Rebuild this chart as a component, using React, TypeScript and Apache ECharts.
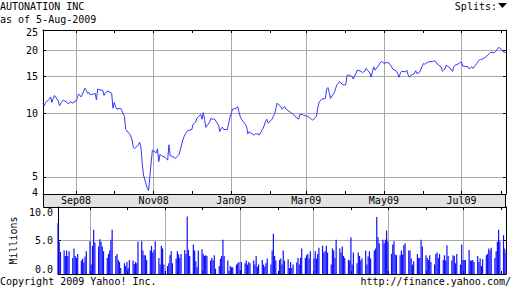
import { useEffect, useRef } from 'react';
import * as echarts from 'echarts';

const MONTHS = ['Jan', 'Feb', 'Mar', 'Apr', 'May', 'Jun', 'Jul', 'Aug', 'Sep', 'Oct', 'Nov', 'Dec'];
const START = '2008-08-06';
const END = '2009-08-05';

// daily closes (one per weekday from START to END)
const closes = [
  11.2, 10.9, 11.3, 11.7, 12.0, 11.3, 11.8, 12.2, 11.5, 10.9,
  11.2, 11.4, 11.6, 11.3, 11.1, 11.3, 11.4, 11.2, 11.5, 11.9,
  12.4, 12.2, 12.0, 13.2, 12.9, 12.5, 12.6, 12.3, 12.4, 12.5,
  11.6, 13.1, 13.0, 12.9, 12.2, 12.5, 12.7, 12.8, 12.5, 10.6,
  11.3, 10.8, 10.5, 10.6, 10.3, 10.0, 9.7, 8.4, 8.0, 7.8,
  7.5, 6.9, 6.8, 7.1, 7.3, 6.9, 5.8, 5.1, 4.4, 4.3,
  5.0, 5.8, 6.7, 6.5, 6.8, 5.9, 6.4, 6.3, 6.2, 6.1,
  6.0, 7.1, 6.3, 6.2, 6.1, 6.2, 6.3, 6.4, 7.5, 7.8,
  8.0, 8.2, 8.3, 8.4, 8.9, 9.0, 9.1, 9.5, 9.9, 9.4,
  10.1, 9.4, 8.6, 9.1, 9.5, 9.4, 9.4, 9.4, 8.8, 8.2,
  8.5, 8.6, 8.4, 8.4, 9.0, 9.6, 10.0, 10.5, 10.6, 10.8,
  10.2, 9.7, 9.4, 8.9, 8.7, 8.0, 8.2, 8.1, 7.9, 8.0,
  8.0, 8.0, 7.9, 8.5, 8.8, 9.2, 9.4, 9.0, 9.4, 9.7,
  9.9, 10.5, 11.2, 10.8, 10.5, 10.7, 10.8, 10.5, 10.2, 10.1,
  10.0, 9.9, 9.7, 9.4, 9.9, 9.9, 9.9, 9.8, 9.7, 9.6,
  9.5, 9.4, 9.3, 9.7, 10.6, 11.3, 11.5, 11.7, 11.8, 13.1,
  13.3, 12.6, 11.8, 12.6, 13.1, 13.7, 13.9, 14.2, 13.7, 13.7,
  13.7, 15.2, 15.3, 15.0, 14.6, 15.1, 15.5, 16.1, 15.9, 15.7,
  15.8, 15.9, 16.4, 15.6, 14.9, 15.8, 16.7, 16.1, 17.0, 17.4,
  17.7, 17.6, 17.4, 17.5, 17.4, 17.1, 16.7, 16.3, 15.9, 15.4,
  14.9, 15.6, 15.9, 15.8, 16.1, 15.3, 14.9, 15.2, 15.5, 16.0,
  15.5, 15.6, 15.7, 17.3, 17.2, 17.3, 17.5, 17.6, 17.7, 17.8,
  17.8, 17.6, 17.2, 16.7, 15.9, 16.1, 16.3, 17.0, 16.5, 16.1,
  15.9, 16.7, 17.0, 17.3, 17.5, 17.6, 16.8, 16.8, 16.7, 16.3,
  16.5, 16.7, 16.4, 17.3, 17.7, 18.0, 18.1, 18.1, 18.6, 18.8,
  19.1, 19.3, 19.6, 19.5, 19.8, 20.2, 20.6, 20.6, 19.6, 19.6,
  19.5,
];

// daily volume, millions
const volumes = [
  7.6, 4.8, 3.3, 3.5, 2.7, 3.5, 2.7, 3.4, 2.4, 3.8,
  2.7, 2.4, 3.0, 2.0, 2.3, 1.7, 2.6, 3.4, 4.9, 1.4,
  4.2, 6.6, 4.7, 4.1, 5.2, 4.8, 4.1, 3.4, 2.4, 3.0,
  3.5, 5.1, 6.6, 2.7, 3.0, 2.1, 1.8, 0.9, 1.6, 1.2,
  1.8, 0.9, 2.1, 2.0, 1.5, 1.8, 1.6, 4.8, 4.9, 3.5,
  2.8, 2.8, 2.1, 3.5, 4.2, 3.2, 3.6, 4.9, 2.4, 1.4,
  4.2, 3.8, 1.4, 1.2, 1.6, 2.8, 3.4, 1.6, 2.3, 3.4,
  2.9,
  2.4, 3.0, 3.6, 3.0, 8.6, 3.6, 2.7, 4.4, 3.5, 1.9,
  1.0, 3.5, 3.7, 3.0, 2.7, 2.8, 2.7, 2.0, 2.4, 2.1,
  2.8, 0.8, 1.2, 2.3, 2.7, 5.1, 2.7, 2.0, 0.5, 1.2,
  1.0, 1.0, 1.4, 1.6, 1.8, 0.6, 1.8, 1.6, 2.0, 1.4,
  1.8, 1.6, 2.0, 1.4, 2.7, 1.1, 1.4, 2.1, 1.4, 1.1,
  1.6, 2.3, 1.4, 3.5, 6.0, 2.7, 2.0, 2.1, 2.3, 1.4,
  3.5, 2.0, 2.2, 0.9, 1.8, 0.9, 1.4, 1.7, 2.4, 1.4,
  2.4, 3.8, 2.4, 2.8, 3.0, 2.3, 3.4, 2.3, 3.4, 2.3,
  3.0, 3.9, 4.2, 3.2, 3.4, 4.2, 3.2, 1.4, 3.8, 3.5,
  2.4, 5.1, 3.8, 3.2, 4.1, 2.7,
  2.4, 2.1, 2.0, 5.5, 1.4, 3.2, 1.6, 3.2, 2.7, 2.0,
  2.3, 3.5, 1.4, 2.6, 3.4, 2.3, 3.5, 3.8, 8.5, 5.5,
  4.6, 5.1, 4.6, 5.1, 6.5, 4.9, 3.0, 4.4, 4.9, 2.9,
  2.8, 2.8, 3.5, 2.9, 4.3, 4.6, 3.5, 3.5, 2.3, 1.4,
  1.9, 3.0, 2.4, 2.4, 5.1, 4.1, 2.8, 2.4, 2.1, 2.8,
  1.8, 1.4, 3.0, 3.2, 2.4, 3.0, 2.1, 2.8, 2.0, 4.3,
  2.7, 2.0, 2.8, 2.7, 1.6, 3.0, 1.4, 4.4, 2.1, 2.1,
  2.1, 3.6, 2.0, 2.0, 2.1, 1.8, 2.7, 1.8, 2.3, 1.2,
  2.2, 2.8, 3.0, 3.8, 3.5, 3.9, 2.4, 3.4, 4.8, 6.6,
  4.9, 5.8, 3.8, 3.1,
];

const monthTicks = [
  '2008-09-01', '2008-10-01', '2008-11-01', '2008-12-01', '2009-01-01', '2009-02-01',
  '2009-03-01', '2009-04-01', '2009-05-01', '2009-06-01', '2009-07-01', '2009-08-01',
];
const labelMonths = ['2008-09-01', '2008-11-01', '2009-01-01', '2009-03-01', '2009-05-01', '2009-07-01'];

const priceGridValues = [5, 10, 15, 20];
const priceLabelTexts = [4, 5, 10, 15, 20, 25];
const priceLabelAt = [4.2, 5, 10, 15, 20, 24.2];
const PRICE_MIN = 4.14;
const PRICE_MAX = 25;

const volGridValues = [5];
const volLabelTexts = [0, 5, 10];
const volLabelAt = [0.6, 5, 9.2];
const VOL_MAX = 10;

const FONT = 'DejaVu Sans Mono';
const GRID_COLOR = '#a9a9a9';

function ts(s: string) {
  const [y, m, d] = s.split('-').map(Number);
  return Date.UTC(y, m - 1, d);
}

function tradingDays(start: string, end: string) {
  const out: number[] = [];
  for (let t = ts(start); t <= ts(end); t += 86400000) {
    const wd = new Date(t).getUTCDay();
    if (wd !== 0 && wd !== 6) out.push(t);
  }
  return out;
}

function nearest(list: number[], v: number) {
  let best = list[0];
  for (const x of list) if (Math.abs(x - v) < Math.abs(best - v)) best = x;
  return best;
}

export default function App() {
  const ref = useRef<HTMLDivElement>(null);

  useEffect(() => {
    if (!ref.current) return;
    const chart = echarts.init(ref.current, undefined, { renderer: 'svg' });
    const days = tradingDays(START, END);
    const xMin = ts(START);
    const xMax = ts(END);
    const monthTs = monthTicks.map(ts);
    const labelTs = labelMonths.map(ts);
    const fmtMonth = (v: number) => {
      const d = new Date(v);
      return MONTHS[d.getUTCMonth()] + String(d.getUTCFullYear() % 100).padStart(2, '0');
    };
    const black = { color: '#000', width: 1 };
    const lbl = { fontFamily: FONT, fontSize: 10, color: '#000' };

    const borderX = (grid: number, position: 'top' | 'bottom') => ({
      type: 'value', gridIndex: grid, position, min: xMin, max: xMax,
      axisLine: { show: true, onZero: false, lineStyle: black },
      axisTick: { show: true, inside: true, length: 3, customValues: monthTs, lineStyle: black },
      axisLabel: { show: false },
      splitLine: { show: false },
    });
    const gridX = (grid: number) => ({
      type: 'value', gridIndex: grid, position: 'bottom', min: xMin, max: xMax,
      axisLine: { show: false, onZero: false },
      axisTick: { show: false, customValues: labelTs },
      axisLabel: { show: false },
      splitLine: { show: true, lineStyle: { color: GRID_COLOR, width: 1 } },
    });

    const priceX0: any = borderX(0, 'bottom');
    priceX0.axisLabel = {
      show: true, customValues: labelTs, formatter: (v: number) => fmtMonth(v),
      margin: 6.5, verticalAlign: 'middle', ...lbl,
    };

    chart.setOption({
      animation: false,
      backgroundColor: '#fff',
      grid: [
        { left: 43, right: 6, top: 30, height: 164 },
        { left: 43, right: 6, top: 207, height: 67 },
      ],
      xAxis: [
        priceX0,
        borderX(0, 'top'),
        gridX(0),
        borderX(1, 'bottom'),
        borderX(1, 'top'),
        gridX(1),
      ],
      yAxis: [
        {
          type: 'value', gridIndex: 0, position: 'left',
          min: Math.log(PRICE_MIN), max: Math.log(PRICE_MAX),
          axisLine: { show: true, onZero: false, lineStyle: black },
          axisTick: { show: true, inside: true, length: 3, customValues: priceGridValues.map(Math.log), lineStyle: black },
          axisLabel: {
            show: true, customValues: priceLabelAt.map(Math.log), margin: 5,
            formatter: (v: number) => String(nearest(priceLabelTexts, Math.exp(v))), ...lbl,
          },
          splitLine: { show: true, lineStyle: { color: GRID_COLOR, width: 1 } },
        },
        {
          type: 'value', gridIndex: 0, position: 'right',
          min: Math.log(PRICE_MIN), max: Math.log(PRICE_MAX),
          axisLine: { show: true, onZero: false, lineStyle: black },
          axisTick: { show: true, inside: true, length: 3, customValues: priceGridValues.map(Math.log), lineStyle: black },
          axisLabel: { show: false },
          splitLine: { show: false },
        },
        {
          type: 'value', gridIndex: 1, position: 'left', min: 0, max: VOL_MAX,
          name: 'Millions', nameLocation: 'middle', nameRotate: 90, nameGap: 35.5,
          nameTextStyle: { ...lbl },
          axisLine: { show: true, onZero: false, lineStyle: black },
          axisTick: { show: true, inside: true, length: 3, customValues: volGridValues, lineStyle: black },
          axisLabel: {
            show: true, customValues: volLabelAt, margin: 5,
            formatter: (v: number) => nearest(volLabelTexts, v).toFixed(1), ...lbl,
          },
          splitLine: { show: true, lineStyle: { color: GRID_COLOR, width: 1 } },
        },
        {
          type: 'value', gridIndex: 1, position: 'right', min: 0, max: VOL_MAX,
          axisLine: { show: true, onZero: false, lineStyle: black },
          axisTick: { show: true, inside: true, length: 3, customValues: volGridValues, lineStyle: black },
          axisLabel: { show: false },
          splitLine: { show: false },
        },
      ],
      series: [
        {
          type: 'line', xAxisIndex: 0, yAxisIndex: 0, z: 5,
          data: closes.map((v, i) => [days[i], Math.log(v)]),
          showSymbol: false, symbol: 'none',
          lineStyle: { color: '#3535ff', width: 1 },
        },
        {
          type: 'bar', xAxisIndex: 3, yAxisIndex: 2, z: 5,
          data: volumes.map((v, i) => [days[i], v]),
          barWidth: 1.2,
          itemStyle: { color: '#1010ff' },
        },
      ],
      graphic: [
        {
          type: 'rect', z: -10,
          shape: { x: 43.5, y: 194.5, width: 462, height: 13 },
          style: { fill: '#e3e3e3', stroke: '#000', lineWidth: 1 },
        },
        { type: 'text', x: 0, y: 6.5, style: { text: 'AUTONATION INC', font: `10px ${FONT}`, fill: '#000', align: 'left', verticalAlign: 'middle' } },
        { type: 'text', x: 0, y: 19.5, style: { text: 'as of 5-Aug-2009', font: `10px ${FONT}`, fill: '#000', align: 'left', verticalAlign: 'middle' } },
        { type: 'text', x: 497, y: 6.5, style: { text: 'Splits:', font: `10px ${FONT}`, fill: '#000', align: 'right', verticalAlign: 'middle' } },
        { type: 'polygon', shape: { points: [[498, 3], [507, 3], [502.5, 8]] }, style: { fill: '#000' } },
        { type: 'text', x: 0, y: 281.5, style: { text: 'Copyright 2009 Yahoo! Inc.', font: `10px ${FONT}`, fill: '#000', align: 'left', verticalAlign: 'middle' } },
        { type: 'text', x: 511, y: 281.5, style: { text: 'http://finance.yahoo.com/', font: `10px ${FONT}`, fill: '#000', align: 'right', verticalAlign: 'middle' } },
      ],
    });
    return () => chart.dispose();
  }, []);

  return (
    <div
      ref={ref}
      style={{ position: 'fixed', left: 0, top: 0, width: 512, height: 288, background: '#fff' }}
    />
  );
}
